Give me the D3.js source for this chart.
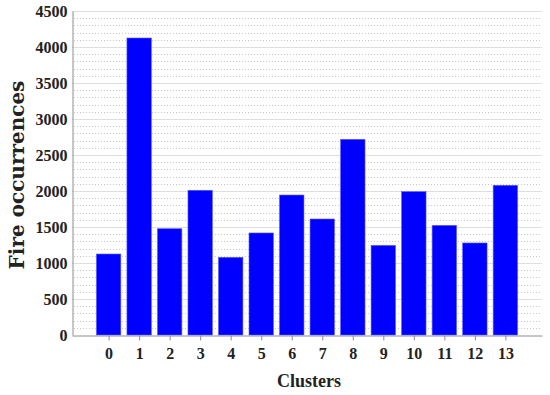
<!DOCTYPE html>
<html>
<head>
	<title>Fire occurrences by cluster</title>
	<script src="https://d3js.org/d3.v7.min.js"></script>
	<style type="text/css">
		*
		{
			margin:0;
			padding:0;
		}
		body
		{
			background:#fff;
			width:550px;
			height:395px;
			overflow:hidden;
		}
		.tick-label
		{
			font-family: "Liberation Serif", serif;
			font-weight: bold;
			font-size: 16px;
			fill:#222;
		}
	</style>
</head>
<body>
	<div id="chart"></div>
	<script>
		const clusters = [0, 1, 2, 3, 4, 5, 6, 7, 8, 9, 10, 11, 12, 13];
		const fires = [1125, 4125, 1476, 2010, 1079, 1417, 1944, 1611, 2718, 1245, 1991, 1523, 1278, 2079];
		const yTicks = [0, 500, 1000, 1500, 2000, 2500, 3000, 3500, 4000, 4500];
		const yMinor = d3.range(0, 4500, 100).filter(v => v % 500 != 0);

		const width = 550;
		const height = 395;
		const plotLeft = 72, plotRight = 542, plotTop = 11, plotBottom = 335;

		const svg = d3.select("#chart").append("svg")
			.attr("width", width)
			.attr("height", height);

		const xScale = d3.scaleLinear().domain([-1.2, 14.2]).range([plotLeft, plotRight]);
		const yScale = d3.scaleLinear().domain([0, 4500]).range([plotBottom, plotTop]);
		const barWidth = (xScale(1) - xScale(0)) * 0.8;

		// minor dotted grid
		svg.append("g")
			.selectAll("line")
			.data(yMinor)
			.enter()
			.append("line")
			.attr("x1", plotLeft + 2)
			.attr("x2", plotRight)
			.attr("y1", d => Math.round(yScale(d)) + 0.5)
			.attr("y2", d => Math.round(yScale(d)) + 0.5)
			.attr("stroke", "#c8c8c8")
			.attr("stroke-dasharray", "1,2");

		// major grid
		svg.append("g")
			.selectAll("line")
			.data(yTicks.slice(1))
			.enter()
			.append("line")
			.attr("x1", plotLeft)
			.attr("x2", plotRight)
			.attr("y1", d => Math.round(yScale(d)) + 0.5)
			.attr("y2", d => Math.round(yScale(d)) + 0.5)
			.attr("stroke", "#dedede");

		svg.selectAll("rect.bar")
			.data(fires)
			.enter()
			.append("rect")
			.attr("class", "bar")
			.attr("x", (d, i) => xScale(clusters[i]) - barWidth / 2)
			.attr("y", d => yScale(d))
			.attr("width", barWidth)
			.attr("height", d => plotBottom - yScale(d))
			.attr("fill", "#0000ff")
			.attr("stroke", "#5a5aff")
			.attr("stroke-width", 0.6);

		const yAxis = d3.axisLeft(yScale).tickValues(yTicks).tickFormat(d3.format("d")).tickSize(0).tickPadding(5);
		const gy = svg.append("g")
			.attr("transform", "translate(" + (plotLeft + 0.5) + ",0)")
			.call(yAxis);
		gy.select(".domain").attr("stroke", "#8c8c8c");
		gy.selectAll("text").attr("class", "tick-label").attr("font-family", null).attr("font-size", null);

		const xAxis = d3.axisBottom(xScale).tickValues(clusters).tickFormat(d3.format("d")).tickSize(5).tickSizeOuter(0).tickPadding(7);
		const gx = svg.append("g")
			.attr("transform", "translate(0," + (plotBottom + 0.5) + ")")
			.call(xAxis);
		gx.select(".domain").attr("stroke", "#8c8c8c");
		gx.selectAll("line").attr("stroke", "#8c8c8c");
		gx.selectAll("text").attr("class", "tick-label").attr("font-family", null).attr("font-size", null);

		svg.append("text")
			.text("Clusters")
			.attr("x", 309)
			.attr("y", 387)
			.attr("text-anchor", "middle")
			.style("font-family", "'Liberation Serif', serif")
			.style("font-weight", "bold")
			.style("font-size", "18px")
			.style("fill", "#222");

		svg.append("text")
			.text("Fire occurrences")
			.attr("transform", "translate(24,175) rotate(-90)")
			.attr("text-anchor", "middle")
			.style("font-family", "'DejaVu Serif', serif")
			.style("font-weight", "bold")
			.style("font-size", "20px")
			.style("fill", "#222");
	</script>
</body>
</html>
